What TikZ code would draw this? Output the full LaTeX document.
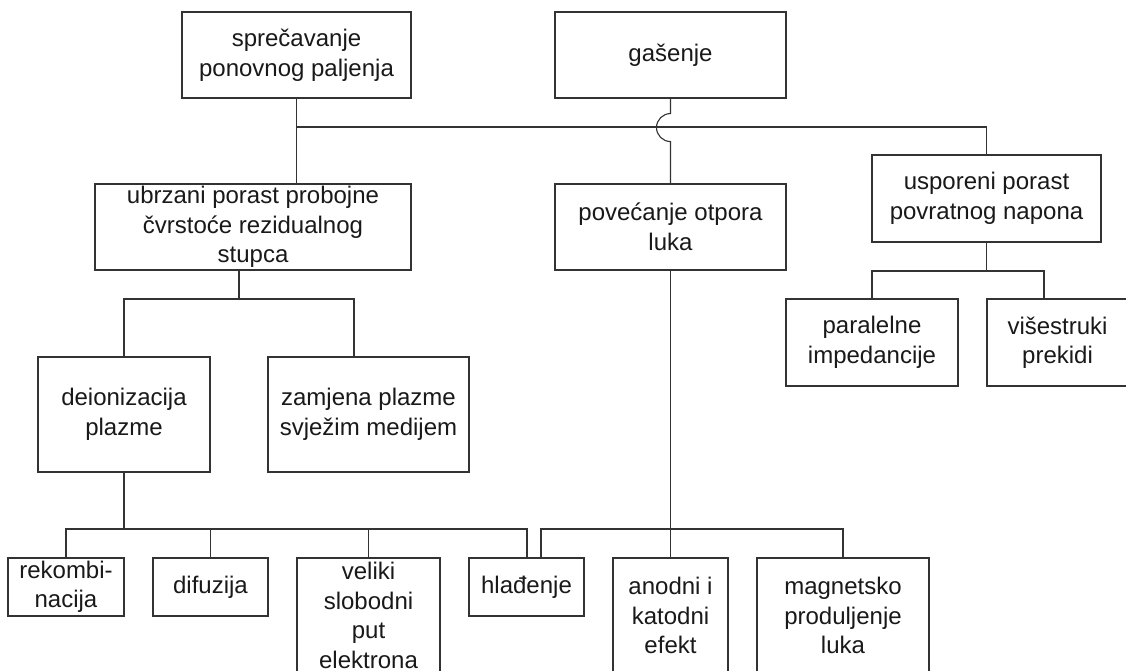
\documentclass[tikz,border=0pt]{standalone}
\usepackage{fontspec}
\setmainfont{Liberation Sans}
\tikzset{
  box/.style={draw=black!80, line width=1.1pt, fill=white, inner sep=0pt, align=center,
    text=black!90, font=\fontsize{24}{29.5}\selectfont},
  wire/.style={draw=black!80, line width=1.1pt}
}
\newcommand{\bx}[7]{% name, x1, y1, x2, y2, text-unused
  \node[box, minimum width={(#4-#2)*1pt}, minimum height={(#5-#3)*1pt}] (#1) at ({(#2+#4)/2},{(#3+#5)/2}) {#6};}
\begin{document}
\begin{tikzpicture}[x=1pt,y=-1pt]
\useasboundingbox (0,0) rectangle (1126,670);
\clip (0,0) rectangle (1126,670);
\fill[white] (0,0) rectangle (1126,670);
% bus levels
\coordinate (busT) at (0,127);
\coordinate (busA) at (0,299);
\coordinate (busB) at (0,529);
\coordinate (busR) at (0,271);
% boxes
\bx{spr}{182}{12}{411}{98}{sprečavanje\\ponovnog paljenja}{}
\bx{gas}{555}{12}{786}{98}{gašenje}{}
\bx{ubr}{95}{184}{411}{270}{ubrzani porast probojne\\čvrstoće rezidualnog\\stupca}{}
\bx{pov}{555}{184}{786}{270}{povećanje otpora\\luka}{}
\bx{usp}{872}{155}{1101}{242}{usporeni porast\\povratnog napona}{}
\bx{par}{786}{299}{958}{386}{paralelne\\impedancije}{}
\bx{vis}{987}{299}{1128}{386}{višestruki\\prekidi}{}
\bx{dei}{38}{357}{210}{472}{deionizacija\\plazme}{}
\bx{zam}{268}{357}{469}{472}{zamjena plazme\\svježim medijem}{}
\bx{rek}{8}{558}{124}{616}{rekombi-\\nacija}{}
\bx{dif}{153}{558}{268}{616}{difuzija}{}
\bx{vel}{297}{558}{440}{673}{veliki\\slobodni\\put\\elektrona}{}
\bx{hla}{469}{558}{584}{616}{hlađenje}{}
\bx{ano}{613}{558}{728}{673}{anodni i\\katodni\\efekt}{}
\bx{mag}{757}{558}{929}{673}{magnetsko\\produljenje\\luka}{}
% top connectors
\draw[wire] (spr.south) -- (ubr.north -| spr.south);
\draw[wire] (spr.south |- busT) -| (usp.north);
\draw[wire] (gas.south) -- ++(0,15) arc[start angle=90,end angle=270,radius=14pt] -- (pov.north);
% ubrzani branch
\draw[wire] ([xshift=-14pt]ubr.south) -- ([xshift=-14pt]ubr.south |- busA);
\draw[wire] (dei.north) |- ([xshift=-14.5pt]zam.north |- busA) -- ([xshift=-14.5pt]zam.north);
% deionizacija branch
\draw[wire] (dei.south) -- (dei.south |- busB);
\draw[wire] (rek.north) |- ([xshift=0.5pt]hla.north |- busB) -- ([xshift=0.5pt]hla.north);
\draw[wire] (dif.north) -- (dif.north |- busB);
\draw[wire] (vel.north) -- (vel.north |- busB);
% povecanje branch
\draw[wire] (pov.south) -- (ano.north);
\draw[wire] ([xshift=14.5pt]hla.north) |- (mag.north |- busB) -- (mag.north);
% usporeni branch
\draw[wire] (usp.south) -- (usp.south |- busR);
\draw[wire] (par.north) |- ([xshift=-13.5pt]vis.north |- busR) -- ([xshift=-13.5pt]vis.north);
\end{tikzpicture}
\end{document}
